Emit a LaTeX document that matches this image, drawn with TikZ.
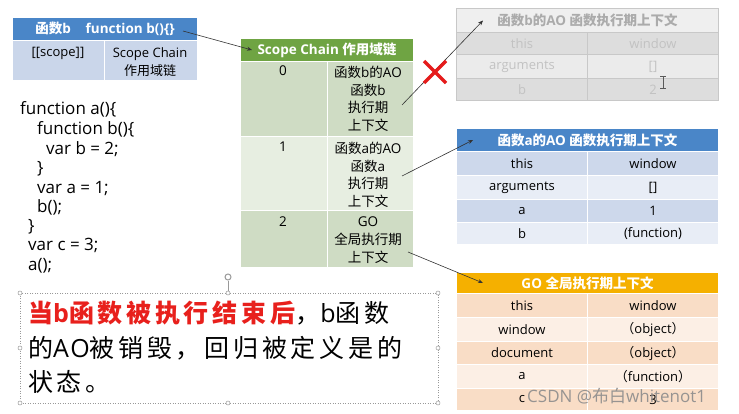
\documentclass[tikz,border=0pt]{standalone}
\usepackage{fontspec}
\setmainfont{Open Sans}
\newfontfamily\cjkfont{Noto Sans CJK SC}
\newfontfamily\cjkfontLS[LetterSpace=15]{Noto Sans CJK SC}
\newfontfamily\latinLS[LetterSpace=7]{Open Sans}
\newcommand\cjkswitch{\cjkfont}
\newcommand\bigsetup{\latinLS\renewcommand\cjkswitch{\cjkfontLS}}
\XeTeXinterchartokenstate=1
\newXeTeXintercharclass\cjkclass
\newcount\cjkc
\cjkc="4E00 \loop\XeTeXcharclass\cjkc=\cjkclass\advance\cjkc by 1\relax\ifnum\cjkc<"A000 \repeat
\cjkc="3000 \loop\XeTeXcharclass\cjkc=\cjkclass\advance\cjkc by 1\relax\ifnum\cjkc<"3040 \repeat
\cjkc="FF00 \loop\XeTeXcharclass\cjkc=\cjkclass\advance\cjkc by 1\relax\ifnum\cjkc<"FFF0 \repeat
\XeTeXinterchartoks 0 \cjkclass = {\begingroup\cjkswitch}
\XeTeXinterchartoks 4095 \cjkclass = {\begingroup\cjkswitch}
\XeTeXinterchartoks \cjkclass 0 = {\endgroup}
\XeTeXinterchartoks \cjkclass 4095 = {\endgroup}
\usetikzlibrary{arrows.meta}
\definecolor{hdrblue}{HTML}{4A86C8}
\definecolor{bluedk}{HTML}{CDD8EB}
\definecolor{bluelt}{HTML}{E8EDF6}
\definecolor{tlbody}{HTML}{CAD6EA}
\definecolor{grnhdr}{HTML}{6FA443}
\definecolor{grndk}{HTML}{CFDCC4}
\definecolor{grnlt}{HTML}{E7EEE1}
\definecolor{grayhdr}{HTML}{EFEFEF}
\definecolor{graydk}{HTML}{DDDDDD}
\definecolor{graylt}{HTML}{EBEBEB}
\definecolor{grayline}{HTML}{C8C8C8}
\definecolor{graytxt}{HTML}{C2C2C2}
\definecolor{orhdr}{HTML}{F5B000}
\definecolor{ordk}{HTML}{F9DDC6}
\definecolor{orlt}{HTML}{FCEFE5}
\definecolor{xred}{HTML}{E51B1B}
\definecolor{txtred}{HTML}{E8201C}
\newcommand{\fsz}[2]{\fontsize{#1}{#2}\selectfont}
\tikzset{
  cell/.style={draw=white, line width=1pt, inner sep=0pt, anchor=north west, font=\fsz{13}{16}},
  hcell/.style={cell, text=white, font=\bfseries\fsz{13.5}{16}},
  gcell/.style={cell, draw=grayline, text=graytxt},
  lbl/.style={inner sep=0pt, font=\fsz{13.5}{17.7}, align=center, anchor=north},
  code/.style={inner sep=0pt, anchor=base west, font=\fsz{17}{19}},
  big/.style={inner sep=0pt, anchor=base west, font=\bigsetup\fsz{25}{30}},
  arr/.style={draw=black!80, line width=0.6pt, -{Stealth[length=5pt,width=4pt]}},
  handle/.style={circle, draw=black!40, fill=white, line width=0.5pt, inner sep=0pt, minimum size=4pt}
}
\begin{document}
\begin{tikzpicture}[x=1pt, y=-1pt]
\useasboundingbox (0,0) rectangle (739,414);
\fill[white] (0,0) rectangle (739,414);

% top-left table
\node[hcell, fill=hdrblue, minimum width=185pt, minimum height=23pt] (tlh) at (12,17) {函数b\hspace{1.1em}function b()\{\}};
\node[cell, fill=tlbody, minimum width=92pt, minimum height=40pt] (tl1) at (12,40) {};
\node[cell, fill=tlbody, minimum width=93pt, minimum height=40pt] (tl2) at (104,40) {};
\node[lbl, font=\fsz{13}{18}] (tl1t) at (58,47) {[[scope]]};
\node[lbl, font=\fsz{13}{18}] (tl2t) at (150,47) {Scope Chain\\作用域链};

% code
\node[code] (c1) at (20,115) {function a()\{};
\node[code] (c2) at (37,135) {function b()\{};
\node[code] (c3) at (46,155) {var b = 2;};
\node[code] (c4) at (37,174) {\}};
\node[code] (c5) at (37,194) {var a = 1;};
\node[code] (c6) at (37,213) {b();};
\node[code] (c7) at (28,232) {\}};
\node[code] (c8) at (28,251) {var c = 3;};
\node[code] (c9) at (28,270) {a();};

% scope chain table
\node[hcell, fill=grnhdr, minimum width=173pt, minimum height=23pt] (sch) at (240,38) {Scope Chain 作用域链};
\node[cell, fill=grndk, minimum width=87pt, minimum height=75pt] (s0l) at (240,61) {};
\node[cell, fill=grndk, minimum width=86pt, minimum height=75pt] (s0r) at (327,61) {};
\node[cell, fill=grnlt, minimum width=87pt, minimum height=74pt] (s1l) at (240,136) {};
\node[cell, fill=grnlt, minimum width=86pt, minimum height=74pt] (s1r) at (327,136) {};
\node[cell, fill=grndk, minimum width=87pt, minimum height=57pt] (s2l) at (240,210) {};
\node[cell, fill=grndk, minimum width=86pt, minimum height=57pt] (s2r) at (327,210) {};
\node[lbl] (s0n) at (283,66) {0};
\node[lbl] (s0t) at (368,66) {函数b的AO\\函数b\\执行期\\上下文};
\node[lbl] (s1n) at (283,142) {1};
\node[lbl] (s1t) at (368,142) {函数a的AO\\函数a\\执行期\\上下文};
\node[lbl] (s2n) at (283,217) {2};
\node[lbl] (s2t) at (368,217) {GO\\全局执行期\\上下文};

% gray (destroyed) AO of b
\node[gcell, fill=grayhdr, font=\bfseries\fsz{13.5}{16}, text=black!33, minimum width=262pt, minimum height=24pt] (gh) at (456,8) {函数b的AO 函数执行期上下文};
\node[gcell, fill=graydk, minimum width=131pt, minimum height=22pt] (g1l) at (456,32) {this};
\node[gcell, fill=graydk, minimum width=131pt, minimum height=22pt] (g1r) at (587,32) {window};
\node[gcell, fill=graylt, minimum width=131pt, minimum height=24pt] (g2l) at (456,54) {arguments};
\node[gcell, fill=graylt, minimum width=131pt, minimum height=24pt] (g2r) at (587,54) {[]};
\node[gcell, fill=graydk, minimum width=131pt, minimum height=22pt] (g3l) at (456,78) {b};
\node[gcell, fill=graydk, minimum width=131pt, minimum height=22pt] (g3r) at (587,78) {2};
% text cursor
\draw[black!65, line width=1pt] (663,77) -- (663,89) (660,77) -- (666,77) (660,89) -- (666,89);

% AO of a
\node[hcell, fill=hdrblue, minimum width=262pt, minimum height=23pt] (ah) at (456,128) {函数a的AO 函数执行期上下文};
\node[cell, fill=bluedk, minimum width=131pt, minimum height=24pt] (a1l) at (456,151) {this};
\node[cell, fill=bluedk, minimum width=131pt, minimum height=24pt] (a1r) at (587,151) {window};
\node[cell, fill=bluelt, minimum width=131pt, minimum height=24pt] (a2l) at (456,175) {arguments};
\node[cell, fill=bluelt, minimum width=131pt, minimum height=24pt] (a2r) at (587,175) {[]};
\node[cell, fill=bluedk, minimum width=131pt, minimum height=23pt] (a3l) at (456,199) {a};
\node[cell, fill=bluedk, minimum width=131pt, minimum height=23pt] (a3r) at (587,199) {1};
\node[cell, fill=bluelt, minimum width=131pt, minimum height=22pt] (a4l) at (456,222) {b};
\node[cell, fill=bluelt, minimum width=131pt, minimum height=22pt] (a4r) at (587,222) {(function)};

% GO
\node[hcell, fill=orhdr, minimum width=262pt, minimum height=21pt] (oh) at (456,272) {GO 全局执行期上下文};
\node[cell, fill=ordk, minimum width=131pt, minimum height=24pt] (o1l) at (456,293) {this};
\node[cell, fill=ordk, minimum width=131pt, minimum height=24pt] (o1r) at (587,293) {window};
\node[cell, fill=orlt, minimum width=131pt, minimum height=24pt] (o2l) at (456,317) {window};
\node[cell, fill=orlt, minimum width=131pt, minimum height=24pt] (o2r) at (587,317) {（object）};
\node[cell, fill=ordk, minimum width=131pt, minimum height=23pt] (o3l) at (456,341) {document};
\node[cell, fill=ordk, minimum width=131pt, minimum height=23pt] (o3r) at (587,341) {（object）};
\node[cell, fill=orlt, minimum width=131pt, minimum height=24pt] (o4l) at (456,364) {a};
\node[cell, fill=orlt, minimum width=131pt, minimum height=24pt] (o4r) at (587,364) {（function）};
\node[cell, fill=ordk, minimum width=131pt, minimum height=22pt] (o5l) at (456,388) {c};
\node[cell, fill=ordk, minimum width=131pt, minimum height=22pt] (o5r) at (587,388) {3};

% connectors
\coordinate (st0) at (183,31);
\coordinate (st1) at (402,105);
\coordinate (st2) at (402,176);
\coordinate (st3) at (408,252);
\draw[arr] (st0) -- ([xshift=12pt]sch.west);
\draw[arr] (st1) -- ([xshift=27pt]gh.west);
\draw[arr] (st2) -- ([xshift=17pt]ah.west);
\draw[arr] (st3) -- ([xshift=27pt]oh.west);

% red cross
\draw[xred, line width=3.5pt] (424,61) -- (446,83) (424,83) -- (446,61);

% text box
\draw[black!40, line width=0.6pt, dash pattern=on 1pt off 1.5pt] (20,293) rectangle (438,403);
\draw[black!40, line width=0.6pt] (228,280.5) -- (228,293);
\node[circle, draw=black!40, fill=white, line width=1pt, minimum size=6pt, inner sep=0pt] (rot) at (228,277) {};
\foreach \hx/\hy [count=\i] in {20/293,228/293,438/293,20/348,438/348,20/403,228/403,438/403}
  \node[handle] (h\i) at (\hx,\hy) {};
\node[big] (t1) at (28,322) {\textcolor{txtred}{\bfseries 当b函数被执行结束后}，b函数};
\node[big] (t2) at (28,357) {的AO被销毁，回归被定义是的};
\node[big] (t3) at (28,391) {状态。};

% watermark
\node[inner sep=0pt, anchor=base west, font=\fsz{17}{20}, text=black!45, opacity=0.9] (wm) at (527,402) {CSDN @布白whitenot1};
\end{tikzpicture}
\end{document}
